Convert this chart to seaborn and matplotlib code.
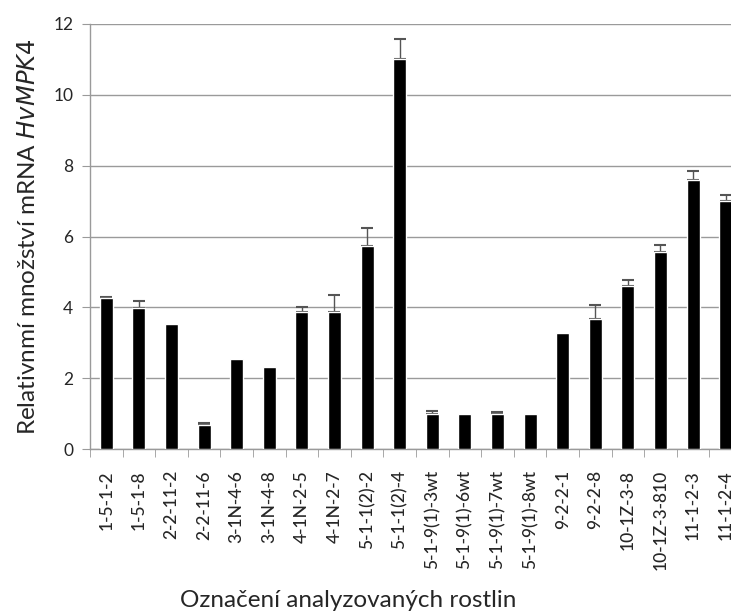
import numpy as np
import pandas as pd
import seaborn as sns
import matplotlib.pyplot as plt
from matplotlib.ticker import FixedLocator

labels = ['1-5-1-2', '1-5-1-8', '2-2-11-2', '2-2-11-6', '3-1N-4-6', '3-1N-4-8',
          '4-1N-2-5', '4-1N-2-7', '5-1-1(2)-2', '5-1-1(2)-4', '5-1-9(1)-3wt',
          '5-1-9(1)-6wt', '5-1-9(1)-7wt', '5-1-9(1)-8wt', '9-2-2-1', '9-2-2-8',
          '10-1Z-3-8', '10-1Z-3-810', '11-1-2-3', '11-1-2-4']
values = [4.27, 3.97, 3.52, 0.68, 2.54, 2.33, 3.88, 3.88, 5.73, 11.0,
          0.98, 0.99, 0.98, 0.98, 3.29, 3.66, 4.60, 5.55, 7.59, 7.00]
errors = [0.02, 0.22, 0.0, 0.05, 0.0, 0.0, 0.12, 0.46, 0.50, 0.57,
          0.11, 0.0, 0.06, 0.0, 0.0, 0.42, 0.17, 0.21, 0.27, 0.18]

df = pd.DataFrame({'linie': labels, 'hodnota': values, 'chyba': errors})

sns.set_style('white')
plt.rcParams['font.family'] = ['Lato', 'DejaVu Sans']

fig = plt.figure(figsize=(7.31, 6.12), dpi=100)
ax = fig.add_axes([0.123, 0.266, 0.892, 0.695])

sns.barplot(data=df, x='linie', y='hodnota', color='black', width=0.4,
            saturation=1, ax=ax, zorder=3)

# jen sloupce s nenulovou chybou maji usecku
pos = np.arange(len(df))
m = df['chyba'] > 0
ax.errorbar(pos[m], df.loc[m, 'hodnota'], yerr=[np.zeros(m.sum()), df.loc[m, 'chyba']],
            fmt='none', ecolor='#555555', elinewidth=1, capsize=4, capthick=1.5,
            zorder=2)

ax.set_ylim(0, 12)
ax.set_xlim(-0.5, len(df) - 0.5)
ax.set_yticks(range(0, 13, 2))
ax.yaxis.grid(True, color='#9a9a9a', linewidth=1)
ax.set_axisbelow(True)

for s in ['top', 'right']:
    ax.spines[s].set_visible(False)
for s in ['left', 'bottom']:
    ax.spines[s].set_color('#9a9a9a')
    ax.spines[s].set_linewidth(1)

ax.xaxis.set_minor_locator(FixedLocator(np.arange(-0.5, len(df), 1)))
ax.tick_params(axis='x', which='minor', length=6, color='#9a9a9a', bottom=True)
ax.tick_params(axis='x', which='major', length=0, labelsize=12.5, labelrotation=90, pad=15)
ax.tick_params(axis='y', length=6, color='#9a9a9a', left=True, labelsize=12.5, pad=6)
for t in ax.get_xticklabels():
    t.set_fontweight('medium')

ax.set_xlabel('Označení analyzovaných rostlin', fontsize=17.5)
ax.xaxis.set_label_coords(0.396, -0.332)
ax.set_ylabel(r'Relativnmí množství mRNA $\it{HvMPK4}$', fontsize=17.5, labelpad=10)

fig.savefig('out.png', dpi=100)
